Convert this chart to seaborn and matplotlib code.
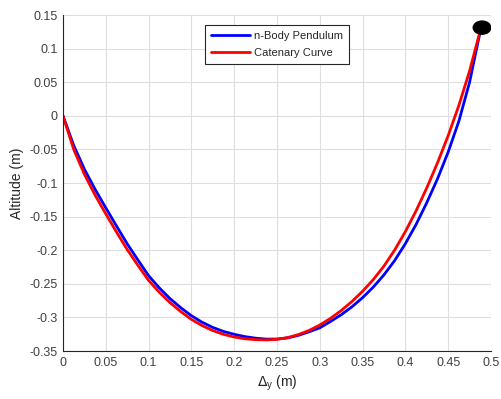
import numpy as np
import pandas as pd
import matplotlib
matplotlib.use("Agg")
import matplotlib.pyplot as plt
from matplotlib.patches import Ellipse
import seaborn as sns

# ---- data ----
pendulum_x = [0.0, 0.0125, 0.025, 0.0375, 0.05, 0.0625, 0.075, 0.0875, 0.1, 0.1125,
              0.125, 0.1375, 0.15, 0.1625, 0.175, 0.1875, 0.2, 0.2125, 0.225, 0.2375,
              0.25, 0.2625, 0.275, 0.2875, 0.3, 0.3125, 0.325, 0.3375, 0.35, 0.3625,
              0.375, 0.3875, 0.4, 0.4125, 0.425, 0.4375, 0.45, 0.4625, 0.475, 0.482,
              0.4885]
pendulum_y = [0.0, -0.044, -0.0795, -0.1095, -0.137, -0.164, -0.1905, -0.2145, -0.238, -0.2561,
              -0.272, -0.2855, -0.2975, -0.3072, -0.3149, -0.3209, -0.3252, -0.3286, -0.3309, -0.3323,
              -0.3322, -0.3305, -0.3267, -0.3214, -0.3155, -0.3061, -0.296, -0.2843, -0.2706, -0.2549,
              -0.2366, -0.2153, -0.1902, -0.1616, -0.1292, -0.0938, -0.0538, -0.0078, 0.050, 0.093,
              0.132]

catenary_x = [0.0, 0.0125, 0.025, 0.0375, 0.05, 0.0625, 0.075, 0.0875, 0.1, 0.1125,
              0.125, 0.1375, 0.15, 0.1625, 0.175, 0.1875, 0.2, 0.2125, 0.225, 0.2375,
              0.25, 0.2625, 0.275, 0.2875, 0.3, 0.3125, 0.325, 0.3375, 0.35, 0.3625,
              0.375, 0.3875, 0.4, 0.4125, 0.425, 0.4375, 0.45, 0.4625, 0.475, 0.4885]
catenary_y = [0.0, -0.050, -0.087, -0.118, -0.146, -0.173, -0.199, -0.2225, -0.245, -0.2626,
              -0.278, -0.2913, -0.303, -0.3122, -0.3196, -0.3252, -0.3292, -0.3318, -0.3331, -0.3335,
              -0.3326, -0.3300, -0.3256, -0.3194, -0.3113, -0.3014, -0.2898, -0.2764, -0.2611, -0.2437,
              -0.2235, -0.1997, -0.1722, -0.1413, -0.1072, -0.0700, -0.0294, 0.0156, 0.0669, 0.132]

end_point = (0.4895, 0.1312)

series_names = ["n-Body Pendulum", "Catenary Curve"]
x_ticks = [0, 0.05, 0.1, 0.15, 0.2, 0.25, 0.3, 0.35, 0.4, 0.45, 0.5]
y_ticks = [-0.35, -0.3, -0.25, -0.2, -0.15, -0.1, -0.05, 0, 0.05, 0.1, 0.15]

sns.set_style("white")
plt.rcParams["font.family"] = ["Liberation Sans", "DejaVu Sans"]
plt.rcParams["axes.unicode_minus"] = False

df = pd.concat([
    pd.DataFrame({"x": pendulum_x, "y": pendulum_y, "series": series_names[0]}),
    pd.DataFrame({"x": catenary_x, "y": catenary_y, "series": series_names[1]}),
], ignore_index=True)

fig = plt.figure(figsize=(5.02, 3.99), dpi=100)
ax = fig.add_axes([63/502, 1 - 351/399, (491-63)/502, (351-15)/399])

sns.lineplot(data=df, x="x", y="y", hue="series", sort=False, estimator=None,
             palette={series_names[0]: "#0000ff", series_names[1]: "#ff0000"},
             linewidth=2.0, ax=ax, legend=True)

ax.add_patch(Ellipse(end_point, 0.0205, 0.0195, color="black", zorder=5))

ax.set_xlim(0, 0.5)
ax.set_ylim(-0.35, 0.15)
ax.set_xticks(x_ticks)
ax.set_yticks(y_ticks)
ax.set_xticklabels([f"{v:g}" for v in x_ticks])
ax.set_yticklabels([f"{v:g}" for v in y_ticks])
ax.grid(True, color="#dedede", linewidth=0.8)
ax.set_axisbelow(True)

for s in ["top", "right"]:
    ax.spines[s].set_visible(False)
for s in ["left", "bottom"]:
    ax.spines[s].set_color("#262626")
    ax.spines[s].set_linewidth(0.8)

ax.tick_params(axis="both", direction="in", length=3.5, width=0.8, color="#262626",
               labelsize=9, labelcolor="#404040", pad=4)

ax.set_xlabel(r"$\Delta_\mathregular{y}$ (m)", fontsize=10, color="#262626", labelpad=4)
ax.set_ylabel("Altitude (m)", fontsize=10, color="#262626", labelpad=4)

leg = ax.legend(loc="upper center", bbox_to_anchor=(0.5, 0.97), fontsize=8,
                frameon=True, fancybox=False, edgecolor="#262626", framealpha=1,
                handlelength=3.5, borderpad=0.55, labelspacing=0.62, handletextpad=0.4,
                borderaxespad=0)
leg.get_frame().set_linewidth(0.8)
for t in leg.get_texts():
    t.set_color("#262626")

fig.savefig("out.png", dpi=100)
